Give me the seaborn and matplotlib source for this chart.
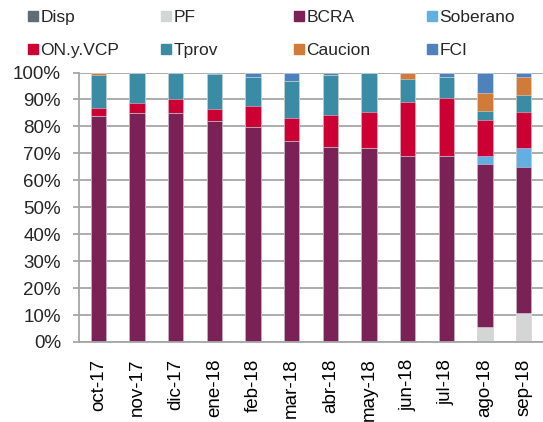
import numpy as np
import pandas as pd
import matplotlib
matplotlib.use("Agg")
import matplotlib.pyplot as plt
from matplotlib.lines import Line2D
import seaborn as sns

# ---- data (percent shares) ----
categories = ["oct-17", "nov-17", "dic-17", "ene-18", "feb-18", "mar-18",
              "abr-18", "may-18", "jun-18", "jul-18", "ago-18", "sep-18"]
series_names = ["Disp", "PF", "BCRA", "Soberano", "ON.y.VCP", "Tprov", "Caucion", "FCI"]
disp     = [0, 0, 0, 0, 0, 0, 0, 0, 0, 0, 0, 0]
pf       = [0, 0, 0, 0, 0, 0, 0, 0, 0, 0, 5.6, 10.6]
bcra     = [83.7, 85.1, 84.9, 81.9, 79.7, 74.5, 72.5, 71.8, 69.2, 69.2, 60.6, 54.3]
soberano = [0, 0, 0, 0, 0, 0, 0, 0, 0, 0, 2.9, 7.0]
on_vcp   = [3.3, 3.4, 5.1, 4.7, 7.9, 8.5, 11.9, 13.7, 20.0, 21.5, 13.1, 13.6]
tprov    = [11.9, 11.5, 10.0, 12.8, 10.7, 14.0, 14.5, 14.5, 8.3, 7.6, 3.6, 6.0]
caucion  = [1.1, 0, 0, 0, 0, 0, 0, 0, 2.5, 0, 6.5, 6.8]
fci      = [0, 0, 0, 0.6, 1.7, 3.0, 1.1, 0, 0, 1.7, 7.7, 1.7]
y_ticks = [0, 10, 20, 30, 40, 50, 60, 70, 80, 90, 100]

colors = ["#5f6b75", "#d4d6d5", "#7a2155", "#62b0e2", "#cc0033", "#3a8ca4", "#d07b3a", "#4f81bd"]

values = [disp, pf, bcra, soberano, on_vcp, tprov, caucion, fci]
df = pd.DataFrame({n: v for n, v in zip(series_names, values)}, index=categories)
cum = df.cumsum(axis=1)

sns.set_theme(style="white")
plt.rcParams["font.family"] = ["Liberation Sans", "DejaVu Sans"]

W, H = 543, 422
fig = plt.figure(figsize=(W / 100, H / 100), dpi=100)
ax = fig.add_axes([79 / W, 80 / H, 464 / W, 269.5 / H])

grid_c = "#a6a6a6"
ax.set_axisbelow(True)
ax.yaxis.grid(True, color=grid_c, linewidth=1.3)

# overlapping cumulative bars, drawn from the top of the stack downward
for name, col in reversed(list(zip(series_names, colors))):
    sns.barplot(x=categories, y=cum[name].values, order=categories, color=col,
                saturation=1, width=0.4, ax=ax,
                edgecolor=(1, 1, 1, 0.45), linewidth=0.6)

ax.set_xlim(-0.5, len(categories) - 0.5)
ax.set_ylim(0, 100)
ax.set_yticks(y_ticks)
ax.set_yticklabels([f"{t}%" for t in y_ticks], fontsize=13.5)
ax.set_xticks(range(len(categories)))
ax.set_xticklabels(categories, rotation=90, fontsize=13.5)
ax.set_xticks(np.arange(-0.5, len(categories), 1.0), minor=True)
ax.tick_params(axis="x", which="major", length=0, pad=12, colors="black")
ax.tick_params(axis="x", which="minor", length=4, width=1.3, color=grid_c, direction="out")
ax.tick_params(axis="y", length=4.5, width=1.3, color=grid_c, direction="out", pad=8.5, left=True)
ax.set_xlabel("")
ax.set_ylabel("")
for s in ["top", "right"]:
    ax.spines[s].set_visible(False)
for s in ["left", "bottom"]:
    ax.spines[s].set_visible(True)
    ax.spines[s].set_color(grid_c)
    ax.spines[s].set_linewidth(1.3)

# legend: 2 rows x 4 equally spaced columns
col_x = [26.6, 159.6, 292.6, 425.6]
grid_rows = [[0, 1, 2, 3], [4, 5, 6, 7]]
for ci, x0 in enumerate(col_x):
    idxs = [grid_rows[0][ci], grid_rows[1][ci]]
    handles = [Line2D([], [], marker="s", linestyle="", markersize=6.8,
                      color=colors[i]) for i in idxs]
    labels = [series_names[i] for i in idxs]
    fig.legend(handles, labels, loc="upper left",
               bbox_to_anchor=(x0 / W, 1 - 9.5 / H), frameon=False,
               fontsize=12.5, handlelength=0.7, handletextpad=0.1,
               borderpad=0, borderaxespad=0, labelspacing=1.04)

fig.savefig("out.png", dpi=100)
